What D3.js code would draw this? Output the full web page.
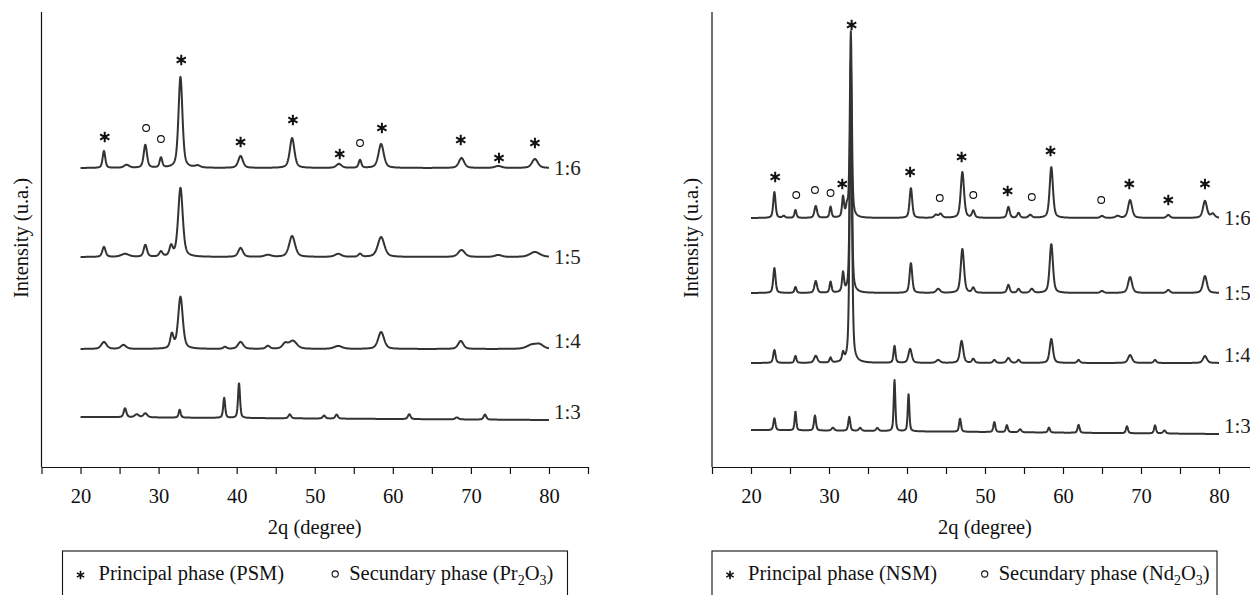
<!DOCTYPE html>
<html lang="en">
<head>
    <meta charset="UTF-8">
    <title>XRD patterns PSM / NSM</title>
    <script src="https://d3js.org/d3.v7.min.js"></script>
    <style>
        body { margin: 0; background: #fff; }
        .axis path, .axis line { stroke: #111; stroke-width: 1.2; }
        .trace { fill: none; stroke: #333; stroke-width: 2; stroke-linejoin: round; }
        .star { fill: none; stroke: #111; stroke-width: 2; }
        .ring { fill: none; stroke: #111; stroke-width: 1.1; }
    </style>
</head>
<body>
<svg width="1250" height="595"></svg>
<script>

    // x axis (2 theta, degree)
    var degTicks = [15, 20, 25, 30, 35, 40, 45, 50, 55, 60, 65, 70, 75, 80, 85];
    var degLabels = [20, 30, 40, 50, 60, 70, 80];
    var ratios = ["1:6", "1:5", "1:4", "1:3"];

    // baseline of every pattern (a.u.) at 20 and at 80 degree
    var psmBase = [[299, 299], [210, 210], [118, 118], [50, 47]];
    var nsmBase = [[249, 249], [174, 174], [104, 104], [37, 33]];

    // peaks: [2theta, height, fwhm]
    var psm16 = [[23.0, 17, 0.4], [25.9, 3, 0.8], [28.3, 23, 0.5], [30.3, 10, 0.4], [32.8, 91, 0.6],
                 [35.0, 2, 0.8], [40.5, 12, 0.7], [47.1, 30, 0.7], [53.1, 4, 0.8], [55.8, 8, 0.4],
                 [58.5, 24, 0.8], [68.8, 10, 0.8], [73.5, 2, 1.0], [78.2, 9, 0.9]];
    var psm15 = [[23.0, 10, 0.5], [25.7, 3, 1.2], [28.3, 12, 0.5], [30.3, 5, 0.5], [31.6, 10, 0.5],
                 [32.8, 69, 0.7], [40.5, 9, 0.7], [44.0, 2, 1.0], [47.1, 21, 0.9], [53.0, 3, 1.0],
                 [55.8, 3, 0.5], [58.5, 20, 1.0], [68.8, 7, 1.0], [73.5, 2, 1.0], [78.2, 5, 1.5]];
    var psm14 = [[23.0, 7, 0.8], [25.5, 4, 0.8], [31.7, 14, 0.5], [32.8, 52, 0.7], [38.5, 2, 0.5],
                 [40.5, 7, 0.8], [44.0, 3, 0.6], [46.2, 5, 0.8], [47.2, 8, 1.2], [53.0, 3, 1.2],
                 [58.5, 17, 0.9], [68.7, 8, 0.8], [77.8, 4, 1.5], [78.8, 4, 1.2]];
    var psm13 = [[25.7, 9, 0.4], [27.2, 3, 0.6], [28.3, 4, 0.6], [32.7, 8, 0.3], [38.4, 20, 0.3],
                 [40.3, 35, 0.3], [46.8, 4, 0.4], [51.2, 3, 0.4], [52.8, 4, 0.4], [62.1, 5, 0.4],
                 [68.2, 2, 0.5], [71.8, 5, 0.4]];

    var nsm16 = [[23.0, 26, 0.35], [24.2, 2, 0.4], [25.7, 8, 0.3], [28.3, 12, 0.4], [30.2, 11, 0.3],
                 [31.8, 20, 0.3], [32.3, 9, 0.3], [32.8, 186, 0.3], [40.5, 30, 0.4], [43.7, 3, 0.5],
                 [44.3, 4, 0.5], [47.1, 46, 0.5], [48.5, 7, 0.4], [53.0, 11, 0.4], [54.3, 5, 0.4],
                 [55.8, 3, 0.5], [58.5, 51, 0.5], [65.0, 2, 0.5], [67.0, 2, 0.6], [68.6, 18, 0.6],
                 [73.5, 3, 0.5], [78.2, 17, 0.6], [79.2, 4, 0.6]];
    var nsm15 = [[23.0, 25, 0.35], [25.7, 6, 0.3], [28.3, 12, 0.4], [30.2, 11, 0.3], [31.8, 19, 0.3],
                 [32.8, 233, 0.3], [40.5, 30, 0.4], [44.0, 4, 0.6], [47.1, 44, 0.5], [48.5, 5, 0.4],
                 [53.0, 8, 0.4], [54.3, 4, 0.4], [56.0, 4, 0.5], [58.5, 49, 0.5], [65.0, 2, 0.5],
                 [68.6, 16, 0.6], [73.5, 3, 0.5], [78.2, 17, 0.6]];
    var nsm14 = [[23.0, 13, 0.35], [25.7, 7, 0.3], [28.3, 7, 0.5], [30.2, 5, 0.3], [31.8, 8, 0.3],
                 [32.8, 273, 0.35], [38.4, 17, 0.3], [40.4, 14, 0.5], [44.0, 3, 0.6], [47.0, 22, 0.5],
                 [48.5, 4, 0.4], [51.2, 3, 0.4], [53.0, 5, 0.5], [54.3, 3, 0.4], [58.5, 24, 0.5],
                 [62.0, 3, 0.4], [68.6, 8, 0.6], [71.8, 3, 0.4], [78.2, 7, 0.6]];
    var nsm13 = [[23.0, 12, 0.3], [25.7, 19, 0.25], [28.2, 15, 0.3], [30.5, 3, 0.4], [32.6, 14, 0.3],
                 [34.0, 3, 0.4], [36.2, 3, 0.4], [38.4, 51, 0.25], [40.2, 37, 0.25], [46.8, 13, 0.3],
                 [51.2, 10, 0.3], [52.8, 7, 0.3], [54.5, 3, 0.4], [58.2, 5, 0.3], [62.0, 8, 0.3],
                 [68.2, 7, 0.3], [71.8, 8, 0.3], [73.0, 3, 0.4]];

    // phase marks above the 1:6 pattern: [2theta, level]
    var psmStars = [[23.1, 330], [32.9, 407], [40.5, 325], [47.2, 347], [53.2, 313],
                    [58.6, 339], [68.7, 327], [73.6, 309], [78.2, 324]];
    var psmRings = [[28.4, 339], [30.3, 328], [55.8, 324]];
    var nsmStars = [[23.1, 290], [31.7, 283], [32.9, 442], [40.4, 295], [47.0, 310],
                    [52.9, 276], [58.4, 316], [68.5, 283], [73.5, 267], [78.2, 283]];
    var nsmRings = [[25.8, 272], [28.2, 277], [30.2, 274], [44.2, 269], [48.5, 272],
                    [56.0, 270], [64.9, 267]];

    var serif = "'Liberation Serif', 'Times New Roman', serif";

    var svg = d3.select("svg");

    // shared intensity scale
    var y = d3.scaleLinear().domain([0, 455]).range([467, 12]);

    // pseudo-voigt sum of the listed peaks on a sloping baseline
    function pattern(peaks, base) {
        var pts = [];
        for (var i = 0; i <= 1500; i++) {
            var t = 20 + i * 0.04;
            var v = base[0] + (base[1] - base[0]) * (t - 20) / 60;
            peaks.forEach(function(p) {
                var u = (t - p[0]) / p[2];
                v += p[1] * (0.5 / (1 + 4 * u * u) + 0.5 * Math.exp(-4 * Math.LN2 * u * u));
            });
            pts.push([t, v]);
        }
        return pts;
    }

    var labelShift = [0, 0, -8, -8];

    function addText(g, x, y, size, str) {
        return g.append("text")
                .attr("x", x).attr("y", y)
                .style("font-family", serif)
                .style("font-size", size + "px")
                .style("fill", "#111")
                .text(str);
    }

    function drawPanel(x0, x1, sets, bases, stars, rings, legendLeft, legendRight, phaseA, phaseB) {
        var x = d3.scaleLinear().domain([15, 85]).range([x0, x1]);
        var g = svg.append("g");

        // axes
        g.append("line")
         .attr("x1", x0).attr("x2", x0)
         .attr("y1", y.range()[1]).attr("y2", y.range()[0])
         .attr("stroke", "#111").attr("stroke-width", 1.2);

        g.append("g")
         .attr("class", "axis")
         .attr("transform", "translate(0," + y(0) + ")")
         .call(d3.axisBottom(x)
                 .tickValues(degTicks)
                 .tickSizeInner(7)
                 .tickSizeOuter(0)
                 .tickPadding(14)
                 .tickFormat(function(d) { return degLabels.indexOf(d) >= 0 ? d : ""; }))
         .call(function(a) {
             a.selectAll("text")
              .style("font-family", serif)
              .style("font-size", "20.5px")
              .attr("fill", "#111");
         });

        addText(g, (x0 + x1) / 2, 534, 20.5, "2q (degree)")
            .attr("text-anchor", "middle");

        g.append("text")
         .attr("transform", "translate(" + (x0 - 14) + ",238) rotate(-90)")
         .attr("text-anchor", "middle")
         .style("font-family", serif)
         .style("font-size", "20.5px")
         .style("fill", "#111")
         .text("Intensity (u.a.)");

        // patterns
        var line = d3.line()
                     .x(function(d) { return x(d[0]); })
                     .y(function(d) { return y(d[1]); });

        sets.forEach(function(peaks, i) {
            g.append("path")
             .attr("class", "trace")
             .attr("d", line(pattern(peaks, bases[i])));

            addText(g, x(80) + 5, y(bases[i][1]) + 7 + labelShift[i], 21, ratios[i])
                .style("fill", "#222");
        });

        // phase marks
        g.selectAll(".star")
         .data(stars)
         .enter().append("path")
         .attr("class", "star")
         .attr("transform", function(d) { return "translate(" + x(d[0]) + "," + y(d[1]) + ")"; })
         .attr("d", d3.symbol(d3.symbolAsterisk, 80));

        g.selectAll(".ring")
         .data(rings)
         .enter().append("path")
         .attr("class", "ring")
         .attr("transform", function(d) { return "translate(" + x(d[0]) + "," + y(d[1]) + ")"; })
         .attr("d", d3.symbol(d3.symbolCircle, 36));

        // legend box
        g.append("rect")
         .attr("x", legendLeft).attr("y", 551)
         .attr("width", legendRight - legendLeft).attr("height", 60)
         .attr("fill", "none").attr("stroke", "#111").attr("stroke-width", 1.1);

        g.append("path")
         .attr("class", "star")
         .style("stroke-width", 1.6)
         .attr("transform", "translate(" + (legendLeft + 18) + ",575)")
         .attr("d", d3.symbol(d3.symbolAsterisk, 50));

        addText(g, legendLeft + 36, 580, 20.5, "Principal phase (" + phaseA + ")");

        var ringX = legendLeft + (legendRight - legendLeft) * 0.54;
        g.append("path")
         .attr("class", "ring")
         .attr("transform", "translate(" + ringX + ",574)")
         .attr("d", d3.symbol(d3.symbolCircle, 30));

        var t = addText(g, ringX + 14, 580, 20.5, null);
        t.append("tspan").text("Secundary phase (" + phaseB);
        t.append("tspan").attr("dy", 5).style("font-size", "14px").text("2");
        t.append("tspan").attr("dy", -5).text("O");
        t.append("tspan").attr("dy", 5).style("font-size", "14px").text("3");
        t.append("tspan").attr("dy", -5).text(")");
    }

    drawPanel(41.5, 588, [psm16, psm15, psm14, psm13], psmBase, psmStars, psmRings,
              62.5, 567.5, "PSM", "Pr");
    drawPanel(712, 1258, [nsm16, nsm15, nsm14, nsm13], nsmBase, nsmStars, nsmRings,
              712, 1217, "NSM", "Nd");

</script>
</body>
</html>
